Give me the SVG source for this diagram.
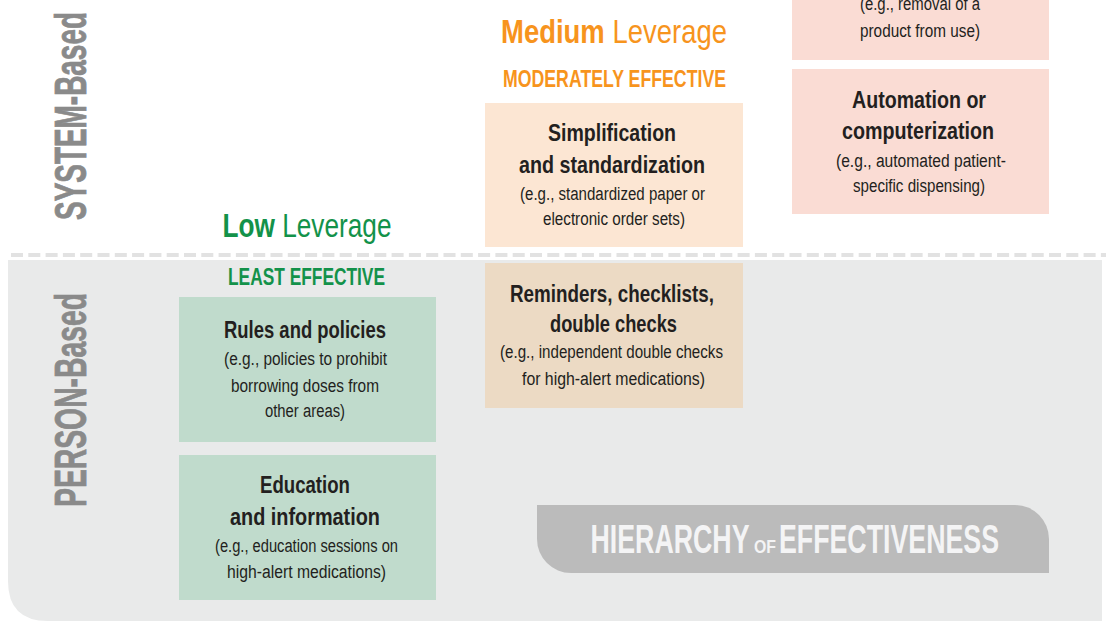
<svg xmlns="http://www.w3.org/2000/svg" width="1106" height="621" viewBox="0 0 1106 621">
  <style>
    text { font-family: "Liberation Sans Narrow", "Liberation Sans", "DejaVu Sans Condensed", sans-serif; text-anchor: middle; }
    .side { font-size: 45px; font-weight: bold; fill: #8a8a8a; stroke: #8a8a8a; stroke-width: 0.8px; }
    .lev { font-size: 34px; }
    .eff { font-size: 24px; font-weight: bold; }
    .green { fill: #13924a; }
    .orange { fill: #f7941d; }
    .b { font-weight: bold; }
    .t { font-size: 24px; font-weight: bold; fill: #231f20; }
    .s { font-size: 18px; fill: #231f20; }
    .hoe { font-weight: bold; fill: #f4f4f5; }
  </style>

  <!-- person-based band -->
  <path d="M8,260 H1102 V621 H48 Q8,621 8,581 Z" fill="#e9eaea"/>
  <line x1="11" y1="255" x2="1106" y2="255" stroke="#e2e2e2" stroke-width="4" stroke-dasharray="12 5.3"/>

  <!-- axis labels -->
  <g id="axis-system">
    <text class="side" transform="translate(86,116) rotate(-90)" textLength="208" lengthAdjust="spacingAndGlyphs">SYSTEM-Based</text>
  </g>
  <g id="axis-person">
    <text class="side" transform="translate(86,400) rotate(-90)" textLength="214" lengthAdjust="spacingAndGlyphs">PERSON-Based</text>
  </g>

  <!-- column headings -->
  <g id="heading-low">
    <text class="lev green" x="307" y="237" textLength="169" lengthAdjust="spacingAndGlyphs"><tspan class="b">Low</tspan> Leverage</text>
    <text class="eff green" x="306.5" y="285" textLength="157" lengthAdjust="spacingAndGlyphs">LEAST EFFECTIVE</text>
  </g>
  <g id="heading-medium">
    <text class="lev orange" x="614" y="43" textLength="226" lengthAdjust="spacingAndGlyphs"><tspan class="b">Medium</tspan> Leverage</text>
    <text class="eff orange" x="614.5" y="87" textLength="223" lengthAdjust="spacingAndGlyphs">MODERATELY EFFECTIVE</text>
  </g>

  <!-- high leverage column -->
  <g id="forcing-functions">
    <rect x="792" y="-20" width="257" height="80" fill="#fadcd4"/>
    <text class="s" x="920" y="10" textLength="120" lengthAdjust="spacingAndGlyphs">(e.g., removal of a</text>
    <text class="s" x="920" y="37" textLength="120" lengthAdjust="spacingAndGlyphs">product from use)</text>
  </g>
  <g id="automation">
    <rect x="792" y="69" width="257" height="145" fill="#fadcd4"/>
    <text class="t" x="919" y="108" textLength="134" lengthAdjust="spacingAndGlyphs">Automation or</text>
    <text class="t" x="918" y="139" textLength="152" lengthAdjust="spacingAndGlyphs">computerization</text>
    <text class="s" x="921" y="167" textLength="170" lengthAdjust="spacingAndGlyphs">(e.g., automated patient-</text>
    <text class="s" x="919" y="192" textLength="132" lengthAdjust="spacingAndGlyphs">specific dispensing)</text>
  </g>

  <!-- medium leverage column -->
  <g id="simplification">
    <rect x="485" y="103" width="258" height="144" fill="#fce6d3"/>
    <text class="t" x="612" y="141" textLength="128" lengthAdjust="spacingAndGlyphs">Simplification</text>
    <text class="t" x="612" y="173" textLength="186" lengthAdjust="spacingAndGlyphs">and standardization</text>
    <text class="s" x="612.5" y="200" textLength="185" lengthAdjust="spacingAndGlyphs">(e.g., standardized paper or</text>
    <text class="s" x="614" y="225" textLength="142" lengthAdjust="spacingAndGlyphs">electronic order sets)</text>
  </g>
  <g id="reminders">
    <rect x="485" y="263" width="258" height="145" fill="#ecdac4"/>
    <text class="t" x="612" y="302" textLength="204" lengthAdjust="spacingAndGlyphs">Reminders, checklists,</text>
    <text class="t" x="613.5" y="332" textLength="127" lengthAdjust="spacingAndGlyphs">double checks</text>
    <text class="s" x="611.5" y="358" textLength="223" lengthAdjust="spacingAndGlyphs">(e.g., independent double checks</text>
    <text class="s" x="613.5" y="385" textLength="183" lengthAdjust="spacingAndGlyphs">for high-alert medications)</text>
  </g>

  <!-- low leverage column -->
  <g id="rules">
    <rect x="179" y="297" width="257" height="145" fill="#c0dbcc"/>
    <text class="t" x="305" y="338" textLength="162" lengthAdjust="spacingAndGlyphs">Rules and policies</text>
    <text class="s" x="305.5" y="365" textLength="163" lengthAdjust="spacingAndGlyphs">(e.g., policies to prohibit</text>
    <text class="s" x="305" y="392" textLength="148" lengthAdjust="spacingAndGlyphs">borrowing doses from</text>
    <text class="s" x="305" y="417" textLength="80" lengthAdjust="spacingAndGlyphs">other areas)</text>
  </g>
  <g id="education">
    <rect x="179" y="455" width="257" height="145" fill="#c0dbcc"/>
    <text class="t" x="305" y="493" textLength="90" lengthAdjust="spacingAndGlyphs">Education</text>
    <text class="t" x="305" y="525" textLength="150" lengthAdjust="spacingAndGlyphs">and information</text>
    <text class="s" x="306.5" y="552" textLength="183" lengthAdjust="spacingAndGlyphs">(e.g., education sessions on</text>
    <text class="s" x="306.5" y="578" textLength="159" lengthAdjust="spacingAndGlyphs">high-alert medications)</text>
  </g>

  <!-- title banner -->
  <g id="title-banner">
    <path d="M537,505 H1015 A34,34 0 0 1 1049,539 V573 H571 A34,34 0 0 1 537,539 Z" fill="#bbbbbb"/>
    <text class="hoe" x="670" y="553" font-size="40" textLength="159" lengthAdjust="spacingAndGlyphs">HIERARCHY</text>
    <text class="hoe" x="765" y="553" font-size="18" textLength="22" lengthAdjust="spacingAndGlyphs">OF</text>
    <text class="hoe" x="889" y="553" font-size="40" textLength="220" lengthAdjust="spacingAndGlyphs">EFFECTIVENESS</text>
  </g>
</svg>
